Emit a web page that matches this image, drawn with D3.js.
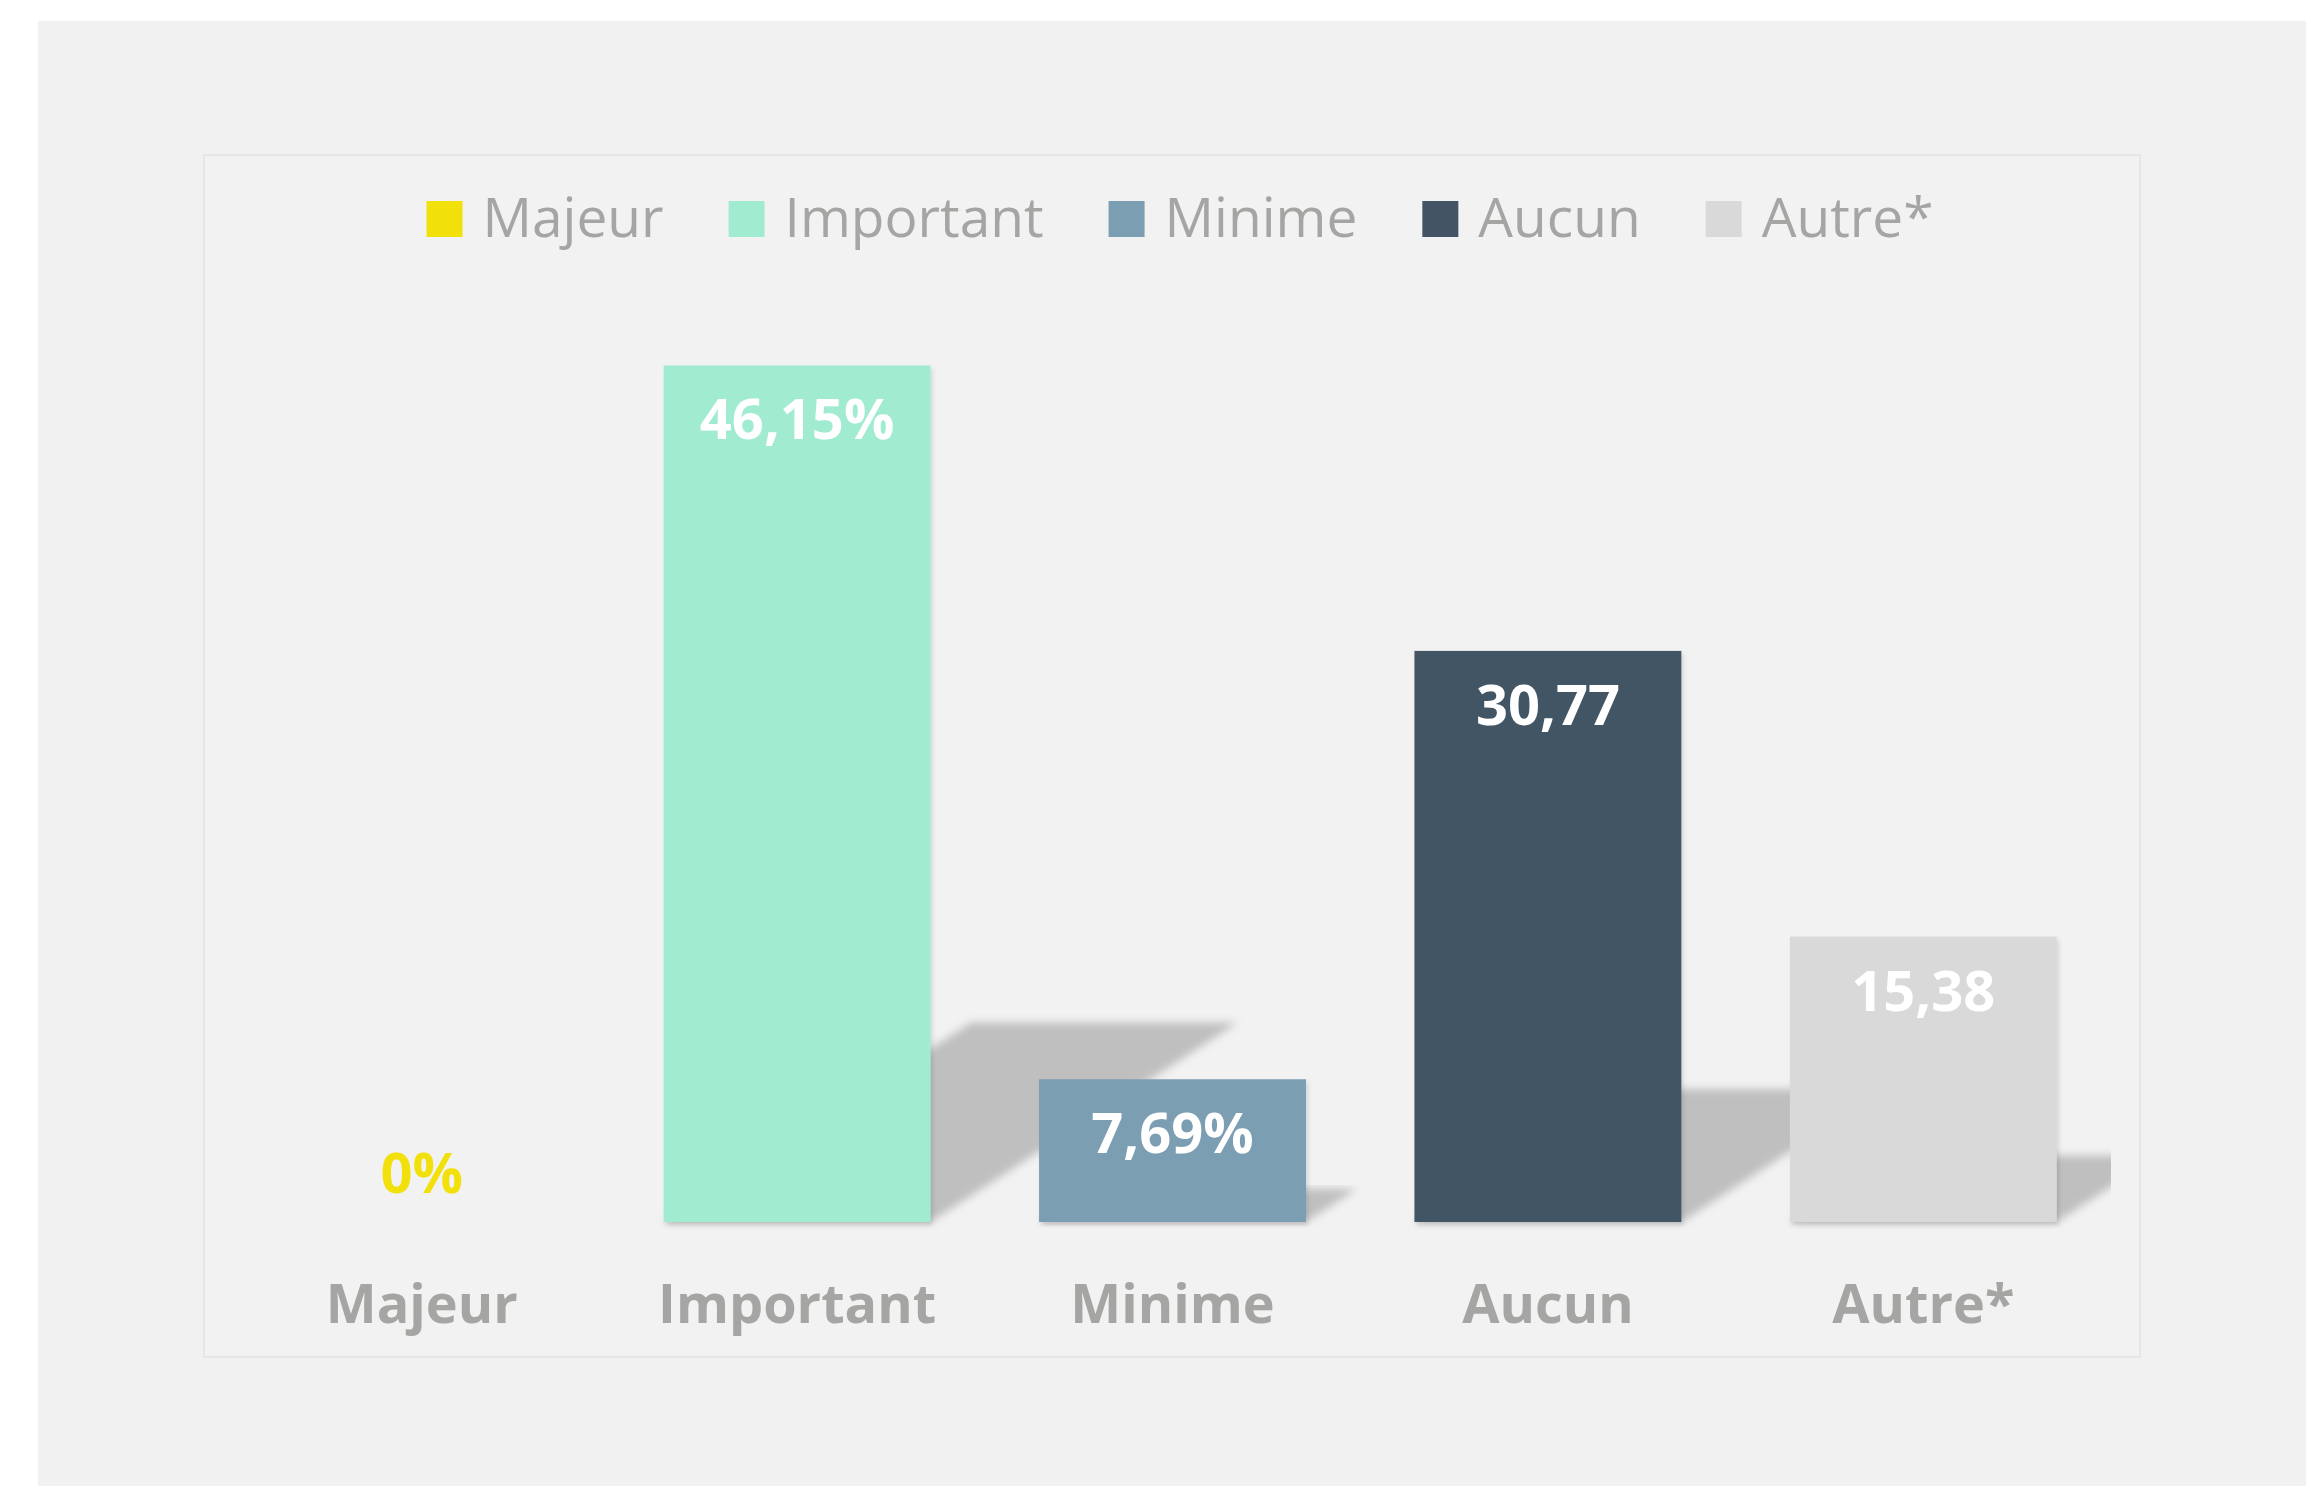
<!DOCTYPE html>
<html>
<head>
  <meta charset="utf-8">
  <title>Impact</title>
  <script src="https://d3js.org/d3.v7.min.js"></script>
  <style>
    html, body { margin: 0; background: #fff; overflow: hidden; }
    text { font-family: "Open Sans", "Noto Sans", sans-serif; }
  </style>
</head>
<body>
<svg id="chart" width="2306" height="1486"></svg>

<script>
const categories = ["Majeur", "Important", "Minime", "Aucun", "Autre*"];
const values = [0, 46.15, 7.69, 30.77, 15.38];
const valueLabels = ["0%", "46,15%", "7,69%", "30,77", "15,38"];
const colors = ["#f2e00a", "#a1ecd1", "#7b9eb3", "#435465", "#d9d9d9"];

const width = 2306, height = 1486;
const plot = { left: 234, right: 2111, top: 294, bottom: 1222 };

const svg = d3.select("#chart");
const defs = svg.append("defs");

// flou pour les ombres portées
defs.append("filter").attr("id", "blur")
  .attr("x", "-10%").attr("y", "-10%").attr("width", "120%").attr("height", "120%")
  .append("feGaussianBlur").attr("stdDeviation", 4);

const barShadow = defs.append("filter").attr("id", "barShadow")
  .attr("x", "-5%").attr("y", "-5%").attr("width", "115%").attr("height", "115%");
barShadow.append("feDropShadow")
  .attr("dx", 2).attr("dy", 3).attr("stdDeviation", 2)
  .attr("flood-color", "#000").attr("flood-opacity", 0.12);

defs.append("clipPath").attr("id", "plotClip")
  .append("rect")
  .attr("x", plot.left).attr("y", plot.top)
  .attr("width", plot.right - plot.left).attr("height", plot.bottom - plot.top + 10);

// fonds
svg.append("rect").attr("x", 38).attr("y", 21)
  .attr("width", width - 38).attr("height", height - 21)
  .attr("fill", "#f1f1f1");
svg.append("rect").attr("x", 204).attr("y", 155)
  .attr("width", 2140 - 204).attr("height", 1357 - 155)
  .attr("fill", "#f2f2f2").attr("stroke", "#e6e6e6").attr("stroke-width", 2);

const x = d3.scaleBand()
  .domain(categories)
  .range([plot.left, plot.right])
  .paddingInner(0.289)
  .paddingOuter(0.1445);

const y = d3.scaleLinear()
  .domain([0, 50])
  .range([plot.bottom, plot.top]);

const data = categories.map((c, i) => ({ cat: c, value: values[i], label: valueLabels[i], color: colors[i] }));

// ombres en perspective derrière les barres
const k = 0.233, slant = 1.54;
svg.append("g")
  .attr("clip-path", "url(#plotClip)")
  .selectAll("path")
  .data(data.filter(d => d.value > 0))
  .join("path")
  .attr("filter", "url(#blur)")
  .attr("fill", "#bfbfbf")
  .attr("d", d => {
    const x0 = x(d.cat), x1 = x0 + x.bandwidth();
    const h = y(0) - y(d.value);
    const sh = k * h, dx = slant * sh;
    const b = y(0);
    return `M${x0},${b}L${x1},${b}L${x1 + dx},${b - sh}L${x0 + dx},${b - sh}Z`;
  });

// barres
svg.append("g")
  .selectAll("rect")
  .data(data.filter(d => d.value > 0))
  .join("rect")
  .attr("x", d => x(d.cat))
  .attr("y", d => y(d.value))
  .attr("width", x.bandwidth())
  .attr("height", d => y(0) - y(d.value))
  .attr("fill", d => d.color)
  .attr("filter", "url(#barShadow)");

// étiquettes de valeur
svg.append("g")
  .selectAll("text")
  .data(data)
  .join("text")
  .attr("x", d => x(d.cat) + x.bandwidth() / 2)
  .attr("y", d => d.value > 0 ? y(d.value) + 74 : y(0) - 29)
  .attr("text-anchor", "middle")
  .attr("font-size", 56)
  .attr("font-weight", "bold")
  .attr("fill", d => d.value > 0 ? "#ffffff" : d.color)
  .text(d => d.label);

// axe des catégories
const xAxis = svg.append("g")
  .attr("transform", `translate(0,${plot.bottom})`)
  .call(d3.axisBottom(x).tickSize(0).tickPadding(0));
xAxis.select(".domain").remove();
xAxis.selectAll("text")
  .attr("y", 101)
  .attr("dy", 0)
  .attr("font-size", 54)
  .attr("font-weight", "bold")
  .attr("font-family", "'Open Sans', sans-serif")
  .attr("fill", "#a5a5a3");

// légende
const legend = svg.append("g");
const items = legend.selectAll("g")
  .data(data)
  .join("g");
items.append("rect")
  .attr("width", 36).attr("height", 36)
  .attr("y", 201)
  .attr("fill", d => d.color);
items.append("text")
  .attr("x", 56)
  .attr("y", 237)
  .attr("font-size", 55)
  .attr("fill", "#a5a5a3")
  .text(d => d.cat);

let cursor = 0;
const offsets = [];
items.each(function () {
  const w = d3.select(this).select("text").node().getComputedTextLength();
  offsets.push(cursor);
  cursor += 56 + w + 65;
});
const total = cursor - 65;
const start = 1180 - total / 2;
items.attr("transform", (d, i) => `translate(${start + offsets[i]},0)`);
</script>
</body>
</html>
